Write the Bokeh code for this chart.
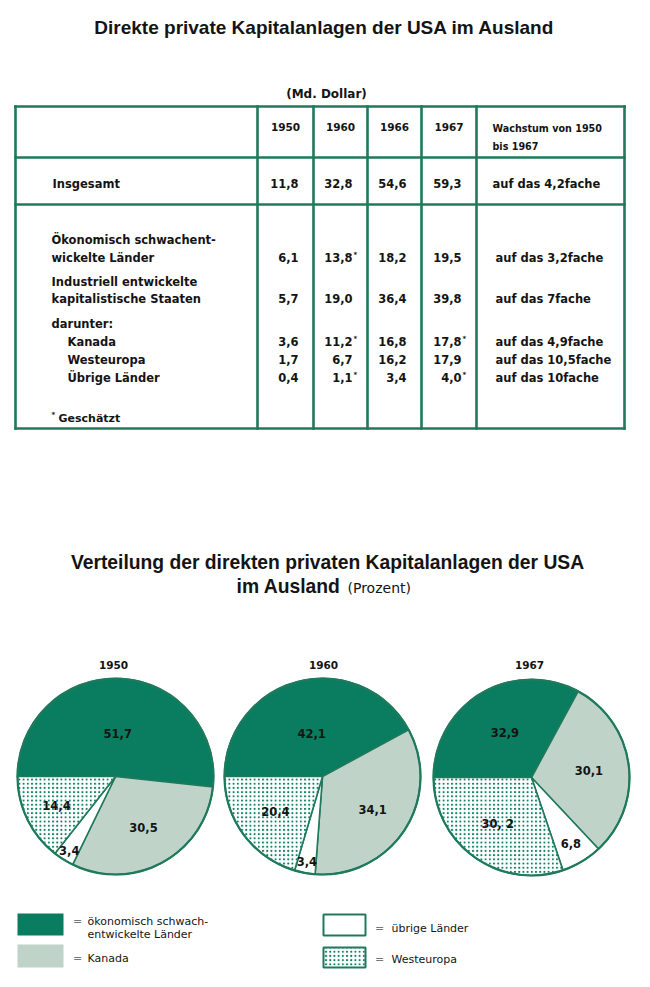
import math
from bokeh.plotting import figure
from bokeh.models import Range1d
from bokeh.embed import file_html
from bokeh.resources import INLINE
from bokeh.core.properties import value

# ---------------- data ----------------
table_years = ["1950", "1960", "1966", "1967"]
row_labels = [["Insgesamt"],
              ["Ökonomisch schwachent-", "wickelte Länder"],
              ["Industriell entwickelte", "kapitalistische Staaten"],
              ["Kanada"], ["Westeuropa"], ["Übrige Länder"]]
v1950 = [11.8, 6.1, 5.7, 3.6, 1.7, 0.4]
v1960 = [32.8, 13.8, 19.0, 11.2, 6.7, 1.1]
v1966 = [54.6, 18.2, 36.4, 16.8, 16.2, 3.4]
v1967 = [59.3, 19.5, 39.8, 17.8, 17.9, 4.0]
est1950 = [False] * 6
est1960 = [False, True, False, True, False, True]
est1966 = [False] * 6
est1967 = [False, False, False, True, False, True]
growth = ["auf das 4,2fache", "auf das 3,2fache", "auf das 7fache",
          "auf das 4,9fache", "auf das 10,5fache", "auf das 10fache"]

pie_years = ["1950", "1960", "1967"]
categories = [["ökonomisch schwach-", "entwickelte Länder"], ["Kanada"],
              ["übrige Länder"], ["Westeuropa"]]
share1950 = [51.7, 30.5, 3.4, 14.4]
share1960 = [42.1, 34.1, 3.4, 20.4]
share1967 = [32.9, 30.1, 6.8, 30.2]
labels1950 = ["51,7", "30,5", "3,4", "14,4"]
labels1960 = ["42,1", "34,1", "3,4", "20,4"]
labels1967 = ["32,9", "30,1", "6,8", "30, 2"]

# ---------------- layout / style ----------------
W, H = 650, 987
def X(x): return x
def Y(y): return H - y

GREEN = "#0a7c5f"
LINE = "#1f7a5c"
LIGHT = "#bfd3c9"
INK = "#141414"
DV = value("DejaVu Sans")
LS = value("Liberation Sans")

p = figure(width=W, height=H, x_range=Range1d(0, W), y_range=Range1d(0, H),
           output_backend="svg", toolbar_location=None, min_border=0,
           x_axis_location=None, y_axis_location=None)
p.grid.visible = False
p.outline_line_color = None
p.background_fill_color = "white"
p.border_fill_color = "white"

def txt(xs, ys, texts, font=DV, size="11.5px", style="bold", align="left",
        baseline="middle", color=INK):
    p.text(x=[X(v) for v in xs], y=[Y(v) for v in ys], text=texts,
           text_font=font, text_font_size=size, text_font_style=style,
           text_align=align, text_baseline=baseline, text_color=color)

# titles
txt([324], [27], ["Direkte private Kapitalanlagen der USA im Ausland"],
    font=LS, size="19px", align="center")
txt([326], [93], ["(Md. Dollar)"], size="12px", align="center")

# ---------------- table ----------------
col_edges = [15, 257, 313, 367, 421, 476, 624]
row_edges = [106, 157, 204, 428]
x0s, y0s, x1s, y1s = [], [], [], []
for r in row_edges:
    x0s.append(X(col_edges[0])); x1s.append(X(col_edges[-1]))
    y0s.append(Y(r)); y1s.append(Y(r))
for c in col_edges:
    x0s.append(X(c)); x1s.append(X(c))
    y0s.append(Y(row_edges[0])); y1s.append(Y(row_edges[-1]))
p.segment(x0=x0s, y0=y0s, x1=x1s, y1=y1s, line_color=LINE, line_width=2.6,
          line_cap="square")

# header
hdr_y = 126
txt([(col_edges[i + 1] + col_edges[i + 2]) / 2 for i in range(4)], [hdr_y] * 4,
    table_years, size="10.5px", align="center")
txt([492, 492], [128, 146], ["Wachstum von 1950", "bis 1967"], size="9.6px")

row_y = [183, 257, 298, 341, 359, 377]
label_line_y = [[183], [239, 257], [281, 298], [341], [359], [377]]
label_x = [52, 51, 51, 67, 67, 67]
lx, ly, lt = [], [], []
for i, lines in enumerate(row_labels):
    for j, s in enumerate(lines):
        lx.append(label_x[i]); ly.append(label_line_y[i][j]); lt.append(s)
lx.append(51); ly.append(323); lt.append("darunter:")
txt(lx, ly, lt)

def fmt(v):
    return f"{v:.1f}".replace(".", ",")

vals = [v1950, v1960, v1966, v1967]
ests = [est1950, est1960, est1966, est1967]
sx, sy = [], []
for ci, (vs, es) in enumerate(zip(vals, ests)):
    right = col_edges[ci + 2] - 15
    txt([right] * len(vs), row_y, [fmt(v) for v in vs], align="right")
    for k, e in enumerate(es):
        if e:
            sx.append(right + 1); sy.append(row_y[k] - 3)
sx.append(51); sy.append(414)
txt(sx, sy, ["*"] * len(sx), size="7px")
txt([58], [418], ["Geschätzt"], size="11px")

# growth column
txt([492] + [495] * 5, row_y, growth)

# ---------------- second title ----------------
txt([327], [562], ["Verteilung der direkten privaten Kapitalanlagen der USA"],
    font=LS, size="19.3px", align="center")
txt([340], [586], ["im Ausland"], font=LS, size="19.3px", align="right")
txt([347], [587], ["(Prozent)"], size="14px", style="normal")

# ---------------- pies ----------------
centers = [(115, 776), (322, 776), (531, 777)]
R = 98
shares = [share1950, share1960, share1967]
labels = [labels1950, labels1960, labels1967]
rfs = [[0.44, 0.59, 0.89, 0.67], [0.45, 0.61, 0.88, 0.60], [0.53, 0.59, 0.78, 0.59]]
fills = [GREEN, LIGHT, "white", "white"]
hatches = ["blank", "blank", "blank", "dot"]
HATCH = dict(hatch_pattern="dot", hatch_color=GREEN, hatch_scale=4.2,
             hatch_weight=1.9, hatch_alpha=1.0)

wedges = {k: dict(x=[], y=[], a0=[], a1=[]) for k in range(4)}
lab_x, lab_y, lab_t = [], [], []
for pi_, (cx, cy) in enumerate(centers):
    cum = 0.0
    for k, s in enumerate(shares[pi_]):
        a0 = 180 - cum * 3.6
        a1 = 180 - (cum + s) * 3.6
        cum += s
        w = wedges[k]
        w["x"].append(X(cx)); w["y"].append(Y(cy))
        w["a0"].append(math.radians(a0)); w["a1"].append(math.radians(a1))
        mid = math.radians((a0 + a1) / 2)
        lab_x.append(cx + rfs[pi_][k] * R * math.cos(mid))
        lab_y.append(cy - rfs[pi_][k] * R * math.sin(mid))
        lab_t.append(labels[pi_][k])

for k in range(4):
    w = wedges[k]
    kw = HATCH if hatches[k] != "blank" else {}
    p.wedge(x=w["x"], y=w["y"], radius=R, start_angle=w["a0"], end_angle=w["a1"],
            direction="clock", fill_color=fills[k], line_color=LINE, line_width=1.6,
            **kw)
p.circle(x=[X(c[0]) for c in centers], y=[Y(c[1]) for c in centers], radius=R,
         fill_color=None, line_color=LINE, line_width=2.2)

txt(lab_x, lab_y, lab_t, size="11.5px", align="center")
txt([113, 323, 529], [664, 664, 664], pie_years, size="10.5px", align="center")

# ---------------- legend ----------------
boxes = [(17, 63, 913, 935), (17, 63, 944, 967), (323, 365, 914, 935), (323, 365, 947, 967)]
box_lines = [None, None, LINE, LINE]
for k in range(4):
    l, r, t, b = boxes[k]
    kw = HATCH if hatches[k] != "blank" else {}
    p.quad(left=[X(l)], right=[X(r)], top=[Y(t)], bottom=[Y(b)],
           fill_color=fills[k], line_color=box_lines[k],
           line_width=2 if box_lines[k] else 0, **kw)

eq_x = [77, 77, 379, 379]
eq_y = [921, 958, 928, 959]
txt(eq_x, eq_y, ["="] * 4, size="11px", style="normal", align="center", color="#777777")
leg_x, leg_y, leg_t = [], [], []
text_x = [87, 87, 391, 391]
line_y = [[921, 934], [958], [928], [959]]
for k, lines in enumerate(categories):
    for j, s in enumerate(lines):
        leg_x.append(text_x[k]); leg_y.append(line_y[k][j]); leg_t.append(s)
txt(leg_x, leg_y, leg_t, size="11px", style="normal")

open("out.html", "w").write(file_html(p, INLINE))
